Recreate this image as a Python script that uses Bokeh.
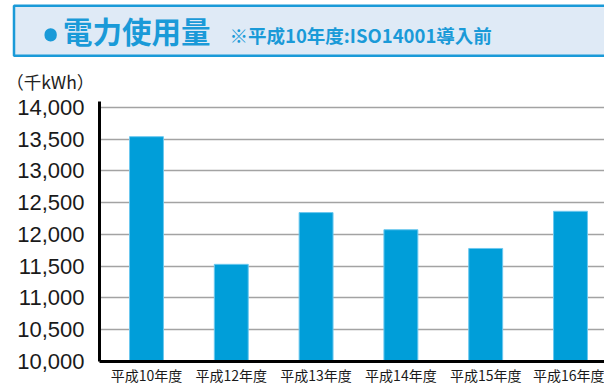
from bokeh.plotting import figure
from bokeh.models import (Range1d, FixedTicker, NumeralTickFormatter, ColumnDataSource, Label)
from bokeh.embed import file_html
from bokeh.resources import INLINE

# ---- data ----
categories = ["平成10年度", "平成12年度", "平成13年度", "平成14年度", "平成15年度", "平成16年度"]
usage = [13540, 11530, 12345, 12075, 11780, 12365]
y_ticks = [10000, 10500, 11000, 11500, 12000, 12500, 13000, 13500, 14000]
title_text = "電力使用量"
note_text = "※平成10年度:ISO14001導入前"
unit_text = "（千kWh）"

BLUE = "#1a9ad8"
JP = "Noto Sans CJK JP"

# layout constants (page pixels)
FL, FR, FT, FB = 99, 604, 100, 361
X0, X1 = -0.554, 5.401
Y0, Y1 = 10000, 14094


def dx(px):
    return X0 + (px - FL) * (X1 - X0) / (FR - FL)


def dy(py):
    return Y0 + (FB - py) * (Y1 - Y0) / (FB - FT)


xs = list(range(len(categories)))
src = ColumnDataSource(dict(x=xs, top=usage))
p = figure(width=604, height=388, output_backend="svg", toolbar_location=None,
           x_range=Range1d(X0, X1), y_range=Range1d(Y0, Y1),
           min_border_left=FL, min_border_right=0, min_border_top=FT, min_border_bottom=27,
           outline_line_color=None)
p.vbar(x="x", top="top", bottom=10000, width=0.40, source=src,
       fill_color="#009ed9", line_color="#6cc8ef", line_width=1)

p.xgrid.visible = False
p.ygrid.grid_line_color = "#a3a3a3"
p.ygrid.grid_line_width = 1.6
p.yaxis.ticker = FixedTicker(ticks=y_ticks)
p.yaxis.formatter = NumeralTickFormatter(format="0,0")
p.yaxis.major_label_text_font = "Liberation Sans"
p.yaxis.major_label_text_font_size = "22px"
p.yaxis.major_label_text_color = "#1a1a1a"
p.yaxis.major_label_standoff = 15

p.xaxis.ticker = FixedTicker(ticks=xs)
p.xaxis.major_label_overrides = {i: c for i, c in enumerate(categories)}
p.xaxis.major_label_text_font = JP
p.xaxis.major_label_text_font_size = "14px"
p.xaxis.major_label_text_color = "#1a1a1a"
p.xaxis.major_label_standoff = 3

for ax in (p.xaxis, p.yaxis):
    ax.axis_line_color = "black"
    ax.axis_line_width = 3
    ax.major_tick_line_color = None
    ax.minor_tick_line_color = None
    ax.major_tick_out = 0
    ax.major_tick_in = 0

# ---- header: labels in side panels (not clipped), positioned in data units ----
title = Label(x=dx(13.5), y=dy(4), text=title_text,
              text_align="left", text_baseline="top",
              text_font=JP, text_font_style="bold", text_font_size="29.5px",
              text_color=BLUE,
              padding=dict(left=49, right=432, top=3, bottom=5),
              background_fill_color="#dfeaf6", background_fill_alpha=1.0,
              border_line_color=BLUE, border_line_width=2.5)
note = Label(x=dx(229), y=dy(33), text=note_text,
             text_baseline="middle", text_align="left",
             text_font=JP, text_font_style="bold", text_font_size="18.5px",
             text_color=BLUE)
unit = Label(x=dx(5.7), y=dy(80), text=unit_text,
             text_baseline="middle", text_align="left",
             text_font=JP, text_font_size="17.5px", text_color="#222222")
bullet = Label(x=dx(44), y=dy(26.5), text=" ", text_font_size="1px",
               text_align="left", text_baseline="top",
               padding=dict(left=0, right=12, top=0, bottom=12),
               background_fill_color=BLUE, background_fill_alpha=1.0,
               border_line_color=None, border_radius=6)

p.add_layout(title, "above")
p.add_layout(note, "above")
p.add_layout(unit, "above")
p.add_layout(bullet, "left")

open("out.html", "w").write(file_html(p, INLINE))
